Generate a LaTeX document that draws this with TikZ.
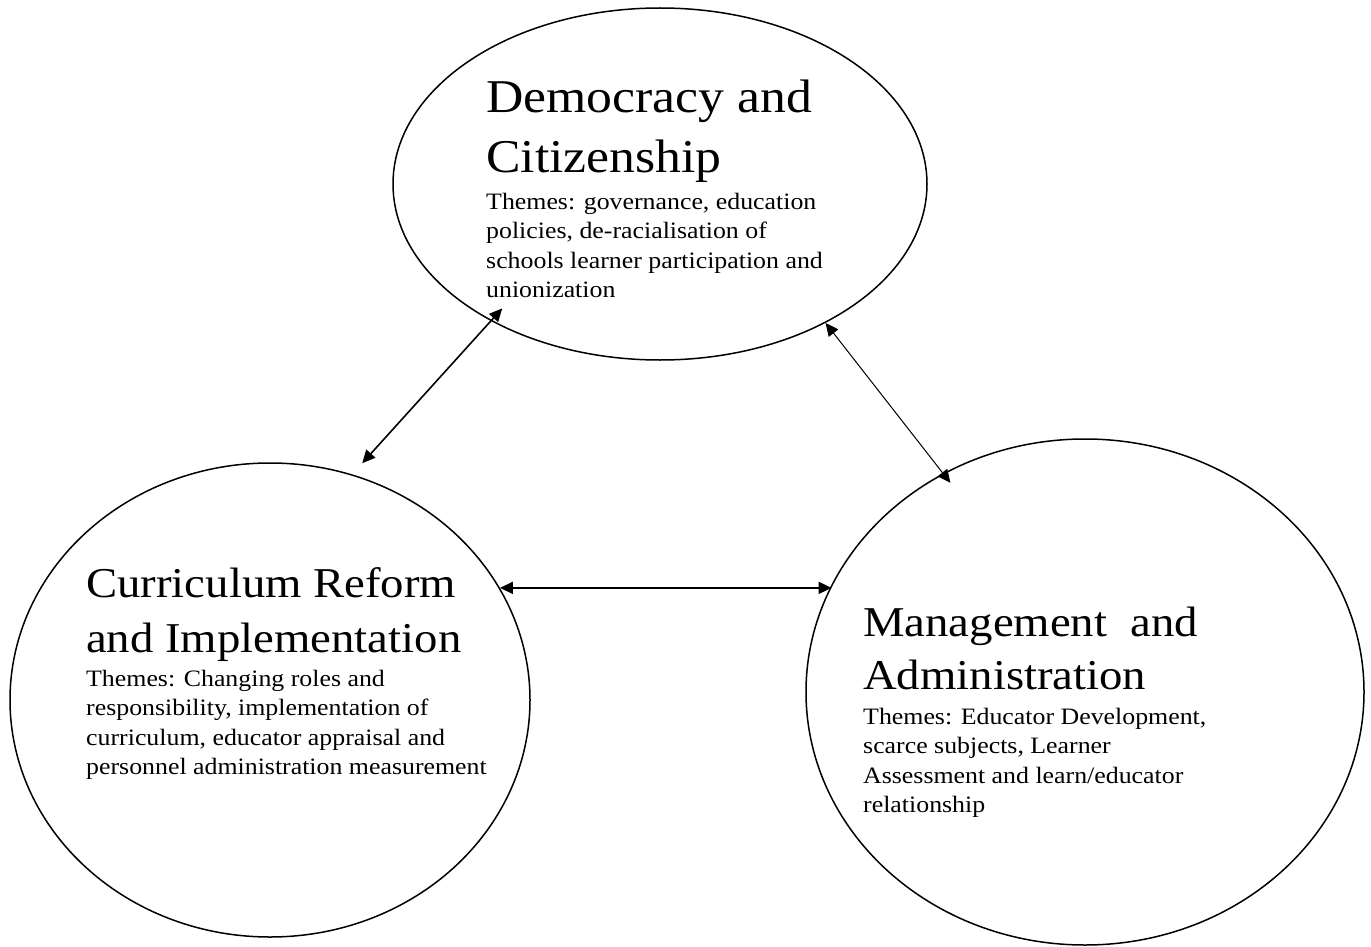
\documentclass[tikz,border=0pt]{standalone}
\usepackage{fontspec}
\setmainfont{Liberation Serif}[FakeStretch=1.1]
\usetikzlibrary{arrows.meta,shapes.geometric}
\tikzset{
  bubble/.style={draw, line width=1.5pt, ellipse, inner sep=0pt},
  titletext/.style 2 args={anchor=base west, align=left, inner sep=0pt, font=\fontsize{#1}{#2}\selectfont},
  themetext/.style={anchor=base west, align=left, inner sep=0pt, font=\fontsize{23.5}{29.5}\selectfont},
  link/.style={{Triangle[length=13pt,width=12pt]}-{Triangle[length=13pt,width=12pt]}, line width=1.6pt},
  thinlink/.style={link, line width=1pt}
}
\begin{document}
\begin{tikzpicture}[x=1pt,y=-1pt]
\useasboundingbox (0,0) rectangle (1371,947);
\node[bubble, minimum width=534pt, minimum height=352pt] (T) at (660,184) {};
\node[bubble, minimum width=520pt, minimum height=474pt] (L) at (270,700) {};
\node[bubble, minimum width=558pt, minimum height=506pt] (R) at (1085,692) {};

\node[titletext={47}{59}] (Ttitle) at (486,172) {Democracy and\\Citizenship};
\node[themetext] (Ttheme) at (486,297.5) {Themes: governance, education\\policies, de-racialisation of\\schools learner participation and\\unionization};

\node[titletext={42.5}{55}] (Ltitle) at (86,652) {Curriculum Reform\\and Implementation};
\node[themetext] (Ltheme) at (86,774.5) {Themes: Changing roles and\\responsibility, implementation of\\curriculum, educator appraisal and\\personnel administration measurement};

\node[titletext={42.5}{53}] (Rtitle) at (863,689) {Management\ \ and\\Administration};
\node[themetext] (Rtheme) at (863,812.5) {Themes: Educator Development,\\scarce subjects, Learner\\Assessment and learn/educator\\relationship};

\draw[link, shorten <=15pt, shorten >=-17pt] (L.70.6) -- (T.219);
\draw[thinlink, shorten >=-12pt] (T.320) -- (R.123.7);
\draw[link] (L.26.9) -- (R.157.1 |- L.26.9);
\end{tikzpicture}
\end{document}
